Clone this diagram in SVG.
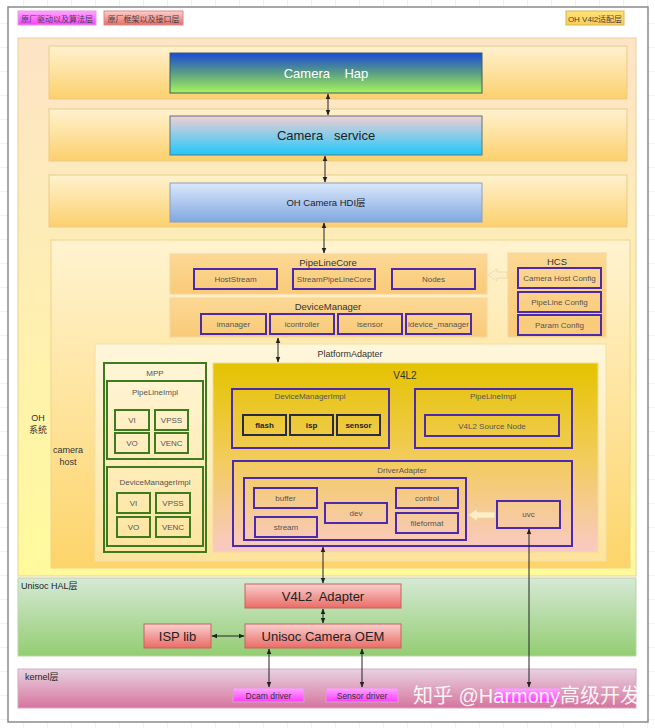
<svg xmlns="http://www.w3.org/2000/svg" width="655" height="728" viewBox="0 0 655 728">
<defs>
<pattern id="grid" width="24" height="24" patternUnits="userSpaceOnUse"><path d="M24 0V24M0 24H24" fill="none" stroke="#e4e4e4" stroke-width="1"/></pattern>
<linearGradient id="gOH" x1="0" y1="0" x2="0" y2="1"><stop offset="0" stop-color="#fde4c6"/><stop offset="1" stop-color="#fffa9c"/></linearGradient>
<linearGradient id="gRow" x1="0" y1="0" x2="0" y2="1"><stop offset="0" stop-color="#fff2cf"/><stop offset="1" stop-color="#fcd06c"/></linearGradient>
<linearGradient id="gHost" x1="0" y1="0" x2="0" y2="1"><stop offset="0" stop-color="#fff3d0"/><stop offset="1" stop-color="#fdd46a"/></linearGradient>
<linearGradient id="gPA" x1="0" y1="0" x2="0" y2="1"><stop offset="0" stop-color="#fff7dc"/><stop offset="1" stop-color="#fde39c"/></linearGradient>
<linearGradient id="gOr" x1="0" y1="0" x2="0" y2="1"><stop offset="0" stop-color="#fcd894"/><stop offset="1" stop-color="#f9ca78"/></linearGradient>
<linearGradient id="gHap" x1="0" y1="0" x2="0" y2="1"><stop offset="0" stop-color="#1a48d8"/><stop offset="0.5" stop-color="#5a9e84"/><stop offset="1" stop-color="#a8f65a"/></linearGradient>
<linearGradient id="gSvc" x1="0" y1="0" x2="0" y2="1"><stop offset="0" stop-color="#f3cfd4"/><stop offset="1" stop-color="#1ec8fa"/></linearGradient>
<linearGradient id="gHdi" x1="0" y1="0" x2="0" y2="1"><stop offset="0" stop-color="#dbe8fc"/><stop offset="1" stop-color="#80a7e0"/></linearGradient>
<linearGradient id="gV4" x1="0" y1="0" x2="0" y2="1"><stop offset="0" stop-color="#e4c300"/><stop offset="0.5" stop-color="#f2cc5a"/><stop offset="1" stop-color="#f9c9c4"/></linearGradient>
<linearGradient id="gHal" x1="0" y1="0" x2="0" y2="1"><stop offset="0" stop-color="#d6e9d5"/><stop offset="1" stop-color="#93cd72"/></linearGradient>
<linearGradient id="gKer" x1="0" y1="0" x2="0" y2="1"><stop offset="0" stop-color="#e8d2e0"/><stop offset="1" stop-color="#d6749e"/></linearGradient>
<linearGradient id="gRed" x1="0" y1="0" x2="0" y2="1"><stop offset="0" stop-color="#f9d0ce"/><stop offset="1" stop-color="#ea6b66"/></linearGradient>
<linearGradient id="gMag" x1="0" y1="0" x2="0" y2="1"><stop offset="0" stop-color="#ffa6ff"/><stop offset="1" stop-color="#ff3cff"/></linearGradient>
<linearGradient id="gYel" x1="0" y1="0" x2="0" y2="1"><stop offset="0" stop-color="#ffe27a"/><stop offset="1" stop-color="#f8cf55"/></linearGradient>
<marker id="ah" viewBox="0 0 10 10" refX="9" refY="5" markerWidth="6" markerHeight="6" orient="auto-start-reverse"><path d="M0 1L10 5L0 9Z" fill="#222"/></marker>
<style>
text{font-family:"Liberation Sans","Noto Sans CJK SC",sans-serif;fill:#333;}
.c{text-anchor:middle;}
.s8{font-size:8px;fill:#555;}
.s9{font-size:9.5px;}
.p{fill:none;stroke:#4b2aad;stroke-width:2;}
.g{fill:none;stroke:#3e7a1e;stroke-width:2;}
.k{fill:none;stroke:#2a2a40;stroke-width:2;}
.cn{stroke:#222;stroke-width:1;fill:none;marker-start:url(#ah);marker-end:url(#ah);}
.row{fill:url(#gRow);stroke:#ecc98a;stroke-width:1;}
.red{fill:url(#gRed);stroke:#c6655f;stroke-width:1;}
.mag{fill:url(#gMag);stroke:#d8a0c8;stroke-width:1;}
.or{fill:url(#gOr);stroke:#f4d6a4;stroke-width:1;}
.bold{font-weight:bold;font-size:8px;fill:#222;}
</style>
</defs>
<rect width="655" height="728" fill="#ffffff"/>
<rect width="655" height="728" fill="url(#grid)"/>
<rect x="8" y="7" width="640" height="715" fill="#ffffff" stroke="#8a8a8a" stroke-width="1.5"/>

<g id="legend">
<rect x="18" y="11" width="78" height="14" fill="url(#gMag)" stroke="#e0a0e0"/>
<text x="57" y="21.5" class="c" style="font-size:8px;fill:#444">原厂驱动以及算法层</text>
<rect x="104" y="11" width="79" height="14" fill="url(#gRed)" stroke="#d88"/>
<text x="143.5" y="21.5" class="c" style="font-size:8px;fill:#444">原厂框架以及接口层</text>
<rect x="566" y="11" width="58" height="14" fill="url(#gYel)" stroke="#d6b656"/>
<text x="595" y="21.5" class="c" style="font-size:8px;fill:#444">OH V4l2适配层</text>
</g>

<g id="oh-system">
<rect x="18" y="38" width="618" height="538" fill="url(#gOH)" stroke="#ebcf96"/>
<text x="38" y="421" class="c" style="font-size:9px">OH</text>
<text x="38" y="433" class="c" style="font-size:9px">系统</text>
</g>

<g id="row-hap"><rect x="49" y="46" width="578" height="53" class="row"/></g>
<g id="row-service"><rect x="49" y="109" width="578" height="52" class="row"/></g>
<g id="row-hdi"><rect x="49" y="175" width="578" height="52" class="row"/></g>

<g id="camera-hap">
<rect x="170" y="53" width="312" height="40" fill="url(#gHap)" stroke="#3a5a6a"/>
<text x="326" y="78" class="c" xml:space="preserve" style="font-size:13px;fill:#fff">Camera    Hap</text>
</g>
<g id="camera-service">
<rect x="170" y="116" width="312" height="39" fill="url(#gSvc)" stroke="#557788"/>
<text x="326" y="140" class="c" xml:space="preserve" style="font-size:13px;fill:#222">Camera   service</text>
</g>
<g id="oh-hdi">
<rect x="170" y="183" width="312" height="39" fill="url(#gHdi)" stroke="#8aa0c0"/>
<text x="326" y="206" class="c" style="font-size:9.5px;fill:#222">OH Camera HDI层</text>
</g>

<g id="camera-host">
<rect x="51" y="240" width="579" height="328" fill="url(#gHost)" stroke="#f0d28c"/>
<text x="68" y="453" class="c" style="font-size:9px">camera</text>
<text x="68" y="465" class="c" style="font-size:9px">host</text>
</g>

<g id="pipelinecore">
<rect x="170" y="254" width="317" height="40" class="or"/>
<text x="328" y="266" class="c s9">PipeLineCore</text>
<rect x="194" y="269" width="83" height="20" class="p"/><text x="235.5" y="282" class="c s8">HostStream</text>
<rect x="293" y="269" width="82" height="20" class="p"/><text x="334" y="282" class="c s8">StreamPipeLineCore</text>
<rect x="392" y="269" width="83" height="20" class="p"/><text x="433.5" y="282" class="c s8">Nodes</text>
</g>

<g id="devicemanager">
<rect x="170" y="298" width="317" height="39" class="or"/>
<text x="328" y="310" class="c s9">DeviceManager</text>
<rect x="201" y="314" width="65" height="20" class="p"/><text x="233.5" y="327" class="c s8">imanager</text>
<rect x="270" y="314" width="64" height="20" class="p"/><text x="302" y="327" class="c s8">icontroller</text>
<rect x="338" y="314" width="64" height="20" class="p"/><text x="370" y="327" class="c s8">isensor</text>
<rect x="406" y="314" width="65" height="20" class="p"/><text x="438.5" y="327" class="c s8">idevice_manager</text>
</g>

<g id="hcs">
<rect x="508" y="253" width="98" height="84" class="or"/>
<text x="557" y="265" class="c s9">HCS</text>
<rect x="518" y="268" width="83" height="20" class="p"/><text x="559.5" y="281" class="c s8">Camera Host Config</text>
<rect x="518" y="292" width="83" height="20" class="p"/><text x="559.5" y="305" class="c s8">PipeLine Config</text>
<rect x="518" y="315" width="83" height="20" class="p"/><text x="559.5" y="328" class="c s8">Param Config</text>
</g>

<g id="platformadapter">
<rect x="95" y="344" width="511" height="217" fill="url(#gPA)" stroke="#f3dfa6"/>
<text x="350" y="357" class="c" style="font-size:9px">PlatformAdapter</text>
</g>

<g id="mpp">
<rect x="104" y="363" width="102" height="189" class="g"/>
<text x="155" y="376" class="c s8">MPP</text>
<rect x="107" y="381" width="96" height="78" class="g"/>
<text x="155" y="395" class="c s8">PipeLineImpl</text>
<rect x="115" y="410" width="34" height="20" class="g"/><text x="132" y="423" class="c s8">VI</text>
<rect x="155" y="410" width="33" height="20" class="g"/><text x="171.5" y="423" class="c s8">VPSS</text>
<rect x="115" y="433" width="34" height="20" class="g"/><text x="132" y="446" class="c s8">VO</text>
<rect x="155" y="433" width="33" height="20" class="g"/><text x="171.5" y="446" class="c s8">VENC</text>
<rect x="107" y="467" width="96" height="79" class="g"/>
<text x="155" y="485" class="c s8">DeviceManagerImpl</text>
<rect x="117" y="493" width="33" height="20" class="g"/><text x="133.5" y="506" class="c s8">VI</text>
<rect x="156" y="493" width="34" height="20" class="g"/><text x="173" y="506" class="c s8">VPSS</text>
<rect x="117" y="517" width="33" height="20" class="g"/><text x="133.5" y="530" class="c s8">VO</text>
<rect x="156" y="517" width="34" height="20" class="g"/><text x="173" y="530" class="c s8">VENC</text>
</g>

<g id="v4l2">
<rect x="213" y="363" width="385" height="189" fill="url(#gV4)" stroke="#f0dc9a"/>
<text x="405" y="379" class="c" style="font-size:10px">V4L2</text>
<rect x="232" y="389" width="157" height="59" class="p"/>
<text x="310" y="399" class="c s8">DeviceManagerImpl</text>
<rect x="243" y="415" width="43" height="20" class="k"/><text x="264.5" y="428" class="c bold">flash</text>
<rect x="290" y="415" width="43" height="20" class="k"/><text x="311.5" y="428" class="c bold">isp</text>
<rect x="337" y="415" width="43" height="20" class="k"/><text x="358.5" y="428" class="c bold">sensor</text>
<rect x="415" y="389" width="157" height="59" class="p"/>
<text x="493" y="399" class="c s8">PipeLineImpl</text>
<rect x="425" y="415" width="134" height="21" class="p"/><text x="492" y="428.5" class="c s8">V4L2 Source Node</text>
</g>

<g id="driveradapter">
<rect x="233" y="461" width="339" height="85" class="p"/>
<text x="402" y="473" class="c s8">DriverAdapter</text>
<rect x="244" y="478" width="222" height="62" class="p"/>
<rect x="254" y="488" width="63" height="20" class="p"/><text x="285.5" y="501" class="c s8">buffer</text>
<rect x="255" y="517" width="62" height="20" class="p"/><text x="286" y="530" class="c s8">stream</text>
<rect x="325" y="503" width="62" height="20" class="p"/><text x="356" y="516" class="c s8">dev</text>
<rect x="396" y="488" width="62" height="20" class="p"/><text x="427" y="501" class="c s8">control</text>
<rect x="396" y="513" width="62" height="20" class="p"/><text x="427" y="526" class="c s8">fileformat</text>
</g>
<g id="uvc">
<rect x="497" y="501" width="63" height="27" class="p"/><text x="528.5" y="517" class="c s8">uvc</text>
</g>

<g id="unisoc-hal">
<rect x="18" y="578" width="618" height="78" fill="url(#gHal)" stroke="#b5d6a7"/>
<text x="21" y="589" style="font-size:9px;fill:#222">Unisoc HAL层</text>
</g>
<g id="v4l2-adapter">
<rect x="245" y="584" width="156" height="24" class="red"/>
<text x="323" y="600.5" class="c" xml:space="preserve" style="font-size:13px;fill:#222">V4L2  Adapter</text>
</g>
<g id="unisoc-oem">
<rect x="245" y="624" width="156" height="24" class="red"/>
<text x="323" y="640.5" class="c" style="font-size:13px;fill:#222">Unisoc Camera OEM</text>
</g>
<g id="isp-lib">
<rect x="144" y="624" width="67" height="24" class="red"/>
<text x="177.5" y="640.5" class="c" style="font-size:13px;fill:#222">ISP lib</text>
</g>

<g id="kernel">
<rect x="18" y="669" width="618" height="39" fill="url(#gKer)" stroke="#d8a8c4"/>
<text x="25" y="680" style="font-size:9px;fill:#222">kernel层</text>
</g>
<g id="dcam-driver">
<rect x="233" y="688" width="71" height="14" class="mag"/>
<text x="268.5" y="698.5" class="c" style="font-size:8.5px;fill:#333">Dcam driver</text>
</g>
<g id="sensor-driver">
<rect x="326" y="688" width="72" height="14" class="mag"/>
<text x="362" y="698.5" class="c" style="font-size:8.5px;fill:#333">Sensor driver</text>
</g>
<g id="uvc-driver">
<rect x="495" y="688" width="65" height="14" class="mag"/>
</g>

<g id="connectors">
<line x1="328" y1="94" x2="328" y2="115" class="cn"/>
<line x1="325" y1="156" x2="325" y2="182" class="cn"/>
<line x1="324" y1="223" x2="324" y2="253" class="cn"/>
<line x1="278" y1="338" x2="278" y2="362" class="cn"/>
<line x1="323" y1="547" x2="323" y2="583" class="cn"/>
<line x1="529" y1="529" x2="529" y2="687" class="cn"/>
<line x1="323" y1="609" x2="323" y2="623" class="cn"/>
<line x1="212" y1="636" x2="244" y2="636" class="cn"/>
<line x1="269" y1="649" x2="269" y2="687" class="cn"/>
<line x1="362" y1="649" x2="362" y2="687" class="cn"/>
<polygon points="488,275 497,269 497,272 507,272 507,278 497,278 497,281" fill="#fdeecb" stroke="#f3d596" stroke-width="0.8"/>
<polygon points="468,515 477,509 477,512 495,512 495,518 477,518 477,521" fill="#fdeecb" stroke="#f3d596" stroke-width="0.8"/>
</g>

<text x="413" y="703" style="font-size:20px;fill:#ffffff;fill-opacity:0.92">知乎 @Harmony高级开发</text>
</svg>
